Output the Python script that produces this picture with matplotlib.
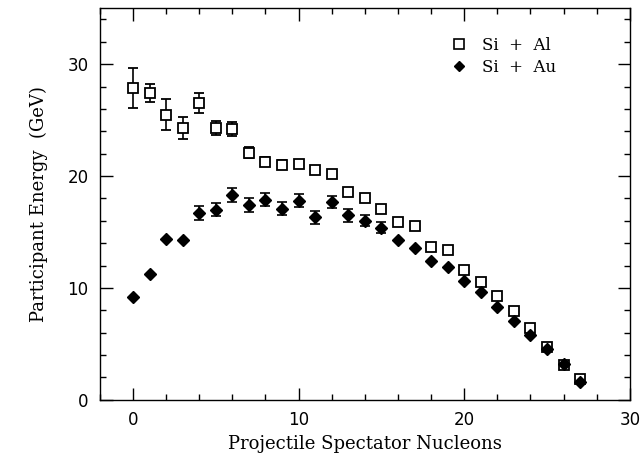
import numpy as np
import matplotlib
matplotlib.use('Agg')
import matplotlib.pyplot as plt
from matplotlib.ticker import MultipleLocator
from matplotlib.lines import Line2D

# Si + Al (open squares)
nucleons = np.arange(28)
al_energy = [27.9, 27.4, 25.5, 24.3, 26.5, 24.3, 24.2, 22.1, 21.3, 21.0,
             21.1, 20.5, 20.2, 18.6, 18.0, 17.1, 15.9, 15.5, 13.7, 13.4,
             11.65, 10.5, 9.26, 7.93, 6.42, 4.7, 3.1, 1.9]
al_err = [1.8, 0.8, 1.4, 0.95, 0.9, 0.65, 0.6, 0.5, 0.4, 0.4] + [0.0] * 18

# Si + Au (filled diamonds)
au_energy = [9.17, 11.24, 14.4, 14.3, 16.7, 17.0, 18.3, 17.4, 17.9, 17.1,
             17.8, 16.3, 17.7, 16.5, 16.0, 15.4, 14.3, 13.6, 12.4, 11.9,
             10.6, 9.67, 8.28, 7.04, 5.77, 4.58, 3.25, 1.63]
au_err = [0, 0, 0, 0, 0.65, 0.6, 0.65, 0.6, 0.6, 0.55,
          0.6, 0.55, 0.55, 0.6, 0.5, 0.5] + [0.0] * 12

fig = plt.figure(figsize=(6.44, 4.57), dpi=100)
ax = fig.add_axes([0.155, 0.125, 0.823, 0.857])

ax.errorbar(nucleons, al_energy, yerr=al_err, fmt='s', mfc='white', mec='black',
            mew=1.3, ms=7.5, ecolor='black', elinewidth=1.2, capsize=3.5,
            capthick=1.2, zorder=3)
ax.errorbar(nucleons, au_energy, yerr=au_err, fmt='D', mfc='black', mec='black',
            ms=6.5, ecolor='black', elinewidth=1.2, capsize=3.5,
            capthick=1.2, zorder=4)

ax.set_xlim(-2, 30)
ax.set_ylim(0, 35)
ax.xaxis.set_major_locator(MultipleLocator(10))
ax.xaxis.set_minor_locator(MultipleLocator(2))
ax.yaxis.set_major_locator(MultipleLocator(10))
ax.yaxis.set_minor_locator(MultipleLocator(2))
ax.tick_params(which='both', direction='in', top=True, right=True, width=1.0)
ax.tick_params(which='major', length=9, labelsize=12, pad=8)
ax.tick_params(which='minor', length=4.5)
for s in ax.spines.values():
    s.set_linewidth(1.0)

ax.set_xlabel('Projectile Spectator Nucleons', family='DejaVu Serif', fontsize=13)
ax.set_ylabel('Participant Energy  (GeV)', family='DejaVu Serif', fontsize=13,
              labelpad=14)

handles = [Line2D([], [], ls='none', marker='s', mfc='white', mec='black',
                  mew=1.2, ms=6.5),
           Line2D([], [], ls='none', marker='D', mfc='black', mec='black',
                  ms=5.5)]
ax.legend(handles, ['Si  +  Al', 'Si  +  Au'], loc='upper left',
          bbox_to_anchor=(0.63, 0.965), frameon=False,
          prop={'family': 'DejaVu Serif', 'size': 12}, handletextpad=0.8,
          labelspacing=0.3, handlelength=1.2)

fig.savefig('out.png', dpi=100)
